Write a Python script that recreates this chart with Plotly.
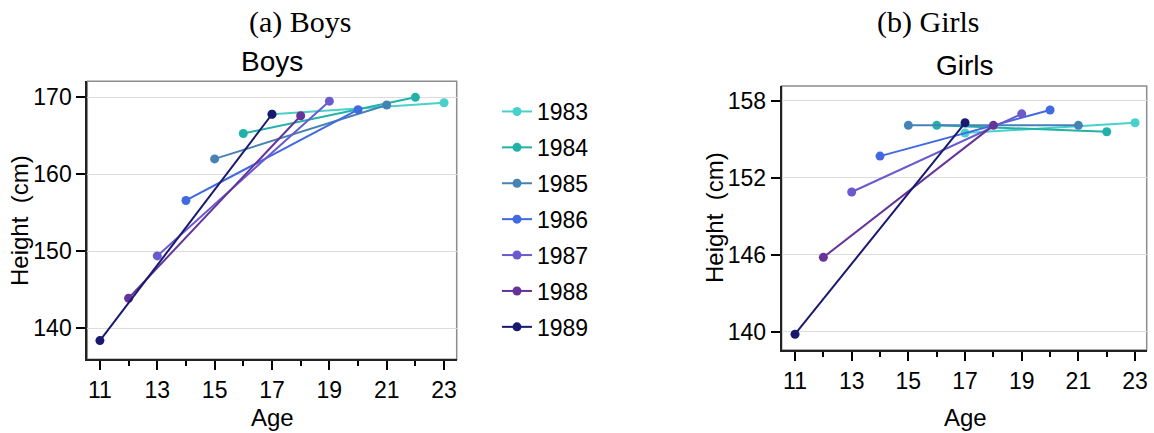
import plotly.graph_objects as go

# Cohorts (birth year) measured twice, six years apart
cohorts = ["1983", "1984", "1985", "1986", "1987", "1988", "1989"]
age_first = [17, 16, 15, 14, 13, 12, 11]
age_second = [23, 22, 21, 20, 19, 18, 17]

boys_first = [167.8, 165.3, 162.0, 156.6, 149.4, 143.9, 138.4]
boys_second = [169.3, 170.0, 169.0, 168.4, 169.5, 167.6, 167.8]

girls_first = [155.5, 156.1, 156.1, 153.7, 150.9, 145.8, 139.8]
girls_second = [156.3, 155.6, 156.1, 157.3, 157.0, 156.1, 156.3]

colors = ["#48D1CC", "#20B2AA", "#4682B4", "#4169E1", "#6A5ACD", "#663399", "#191970"]

x_ticks = [11, 13, 15, 17, 19, 21, 23]
boys_yticks = [140, 150, 160, 170]
girls_yticks = [140, 146, 152, 158]

W, H = 1154, 433
FONT = "Liberation Sans, Arial, sans-serif"
SERIF = "Liberation Serif, Times New Roman, serif"

fig = go.Figure()

for i, c in enumerate(cohorts):
    fig.add_trace(go.Scatter(
        x=[age_first[i], age_second[i]], y=[boys_first[i], boys_second[i]],
        mode="lines+markers", name=c, legendgroup=c,
        line=dict(color=colors[i], width=2), marker=dict(color=colors[i], size=9),
        xaxis="x", yaxis="y", showlegend=True,
    ))
for i, c in enumerate(cohorts):
    fig.add_trace(go.Scatter(
        x=[age_first[i], age_second[i]], y=[girls_first[i], girls_second[i]],
        mode="lines+markers", name=c, legendgroup=c,
        line=dict(color=colors[i], width=2), marker=dict(color=colors[i], size=9),
        xaxis="x2", yaxis="y2", showlegend=False,
    ))


def px_x(p):
    return p / W


def px_y(p):
    return 1 - p / H


xaxis_common = dict(
    tickmode="array", tickvals=x_ticks, ticks="outside", ticklen=9, tickwidth=1.5,
    tickcolor="black", showgrid=False, zeroline=False, showline=True,
    linecolor="#222", linewidth=2, tickfont=dict(family=FONT, size=23, color="black"),
    minor=dict(tickmode="array", tickvals=list(range(11, 24)), ticks="outside",
               ticklen=5, tickwidth=1.5, tickcolor="black", showgrid=False),
)
yaxis_common = dict(
    tickmode="array", ticks="outside", ticklen=9, tickwidth=1.5, tickcolor="black",
    showgrid=True, gridcolor="#dcdcdc", gridwidth=1, zeroline=False, showline=True,
    linecolor="#222", linewidth=2, tickfont=dict(family=FONT, size=23, color="black"),
)

fig.update_layout(
    width=W, height=H, margin=dict(l=0, r=0, t=0, b=0),
    paper_bgcolor="white", plot_bgcolor="white",
    xaxis=dict(xaxis_common, domain=[px_x(87.3), px_x(456.7)], range=[10.56, 23.44], anchor="y"),
    yaxis=dict(yaxis_common, domain=[px_y(359.3), px_y(81.3)], range=[135.97, 172.08],
               tickvals=boys_yticks, anchor="x"),
    xaxis2=dict(xaxis_common, domain=[px_x(781.7), px_x(1146.7)], range=[10.53, 23.41], anchor="y2"),
    yaxis2=dict(yaxis_common, domain=[px_y(350), px_y(86)], range=[138.57, 159.17],
                tickvals=girls_yticks, anchor="x2"),
    legend=dict(
        x=px_x(497), y=px_y(90), xanchor="left", yanchor="top",
        font=dict(family=FONT, size=23, color="black"),
        tracegroupgap=3, bgcolor="rgba(0,0,0,0)",
    ),
    showlegend=True,
)

# light frame on the top and right sides of each panel
for xr, yr in (("x", "y"), ("x2", "y2")):
    fig.add_shape(type="rect", xref=f"{xr} domain", yref=f"{yr} domain",
                  x0=0, x1=1, y0=0, y1=1, line=dict(color="#8c8c8c", width=1.5),
                  layer="below")

texts = [
    ("(a) Boys", 300, 22, SERIF, 30, 0),
    ("(b) Girls", 928, 22, SERIF, 30, 0),
    ("Boys", 272, 62, FONT, 28, 0),
    ("Girls", 965, 65, FONT, 28, 0),
    ("Age", 272, 417, FONT, 24, 0),
    ("Age", 965, 417, FONT, 24, 0),
    ("Height  (cm)", 19, 221, FONT, 24, -90),
    ("Height  (cm)", 714, 218, FONT, 24, -90),
]
for t, x, y, fam, sz, ang in texts:
    fig.add_annotation(text=t, x=px_x(x), y=px_y(y), xref="paper", yref="paper",
                       xanchor="center", yanchor="middle", showarrow=False,
                       textangle=ang, font=dict(family=fam, size=sz, color="black"))

fig.write_html("out.html")
